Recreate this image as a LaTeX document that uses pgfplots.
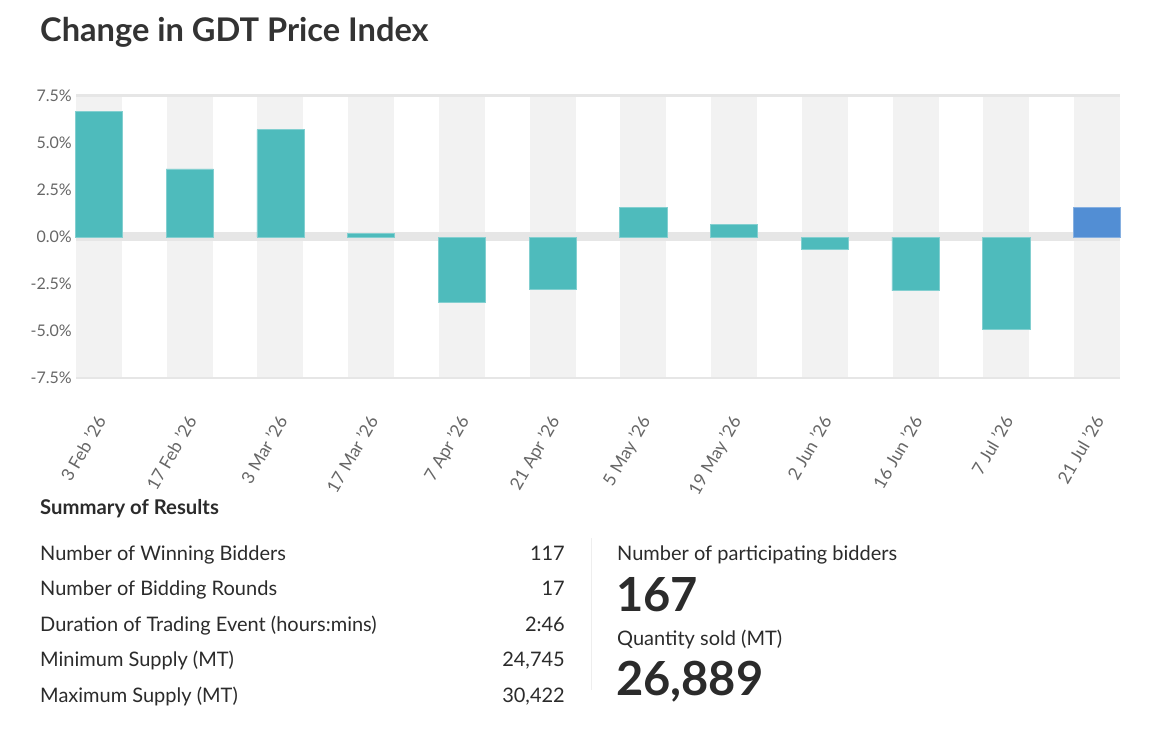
\documentclass[border=0pt]{standalone}
\usepackage{pgfplots}
\pgfplotsset{compat=1.18}
\usepackage{fontspec}
\setmainfont{Lato}
\definecolor{barteal}{HTML}{4EBBBC}
\definecolor{barblue}{HTML}{528ED4}
\definecolor{bandgray}{HTML}{F2F2F2}
\definecolor{gridgray}{HTML}{E6E6E6}
\definecolor{ticktext}{HTML}{666666}
\definecolor{titlec}{HTML}{333333}
\definecolor{bodytext}{HTML}{2B2B2B}
\definecolor{sepgray}{HTML}{EEEEEE}
\begin{document}
\begin{tikzpicture}[x=1pt,y=1pt]
\node[anchor=base west, inner sep=0pt, text=titlec, font=\bfseries\fontsize{32.6}{38}\selectfont] at (40,-41) {Change in GDT Price Index};
\begin{axis}[
  at={(76pt,-378pt)}, anchor=south west,
  scale only axis, width=1044pt, height=282pt,
  xmin=-0.2535, xmax=11.2535, ymin=-7.5, ymax=7.5,
  axis line style={draw=none},
  major tick length=0pt,
  tick style={draw=none},
  ytick={-7.5,-5,-2.5,0,2.5,5,7.5},
  yticklabels={-7.5\%,-5.0\%,-2.5\%,0.0\%,2.5\%,5.0\%,7.5\%},
  yticklabel style={inner sep=0pt, xshift=-4pt, anchor=east, text=ticktext, font=\fontsize{16}{19}\selectfont},
  xtick={0,...,11},
  xticklabels={3 Feb '26,17 Feb '26,3 Mar '26,17 Mar '26,7 Apr '26,21 Apr '26,5 May '26,19 May '26,2 Jun '26,16 Jun '26,7 Jul '26,21 Jul '26},
  xticklabel style={inner sep=0pt, xshift=-4pt, yshift=-36pt, rotate=60, anchor=north east, text=ticktext, font=\fontsize{17.5}{20}\selectfont},
  clip=false,
]
\pgfplotsforeachungrouped \i in {0,...,11}{%
  \pgfmathsetmacro{\xl}{\i-0.2535}%
  \pgfmathsetmacro{\xr}{\i+0.2535}%
  \edef\temp{\noexpand\fill[bandgray] (axis cs:\xl,-7.5) rectangle (axis cs:\xr,7.5);}%
  \temp
}
\draw[gridgray, line width=3pt] (axis cs:-0.2535,7.5) -- (axis cs:11.2535,7.5);
\draw[gridgray, line width=2.5pt] (axis cs:-0.2535,-7.5) -- (axis cs:11.2535,-7.5);
\draw[gridgray, line width=9pt] (axis cs:-0.2535,0.03) -- (axis cs:11.2535,0.03);
\addplot[ybar, bar width=0.52, bar shift=0pt, fill=barteal, draw=barteal!70!white, line width=0.6pt]
  coordinates {(0,6.70) (1,3.62) (2,5.71) (3,0.18) (4,-3.46) (5,-2.77) (6,1.58) (7,0.68) (8,-0.67) (9,-2.86) (10,-4.93)};
\addplot[ybar, bar width=0.52, bar shift=0pt, fill=barblue, draw=barblue!70!white, line width=0.6pt]
  coordinates {(11,1.56)};
\end{axis}
\node[anchor=base west, inner sep=0pt, text=bodytext, font=\bfseries\fontsize{20.3}{24}\selectfont] at (40,-514) {Summary of Results};
\begin{scope}[every node/.style={inner sep=0pt, text=bodytext, font=\fontsize{20}{24}\selectfont}]
\node[anchor=base west] at (40,-560) {Number of Winning Bidders};
\node[anchor=base west] at (40,-595.5) {Number of Bidding Rounds};
\node[anchor=base west] at (40,-631) {Duration of Trading Event (hours:mins)};
\node[anchor=base west] at (40,-666.5) {Minimum Supply (MT)};
\node[anchor=base west] at (40,-702) {Maximum Supply (MT)};
\node[anchor=base east] at (565,-560) {117};
\node[anchor=base east] at (565,-595.5) {17};
\node[anchor=base east] at (565,-631) {2:46};
\node[anchor=base east] at (565,-666.5) {24,745};
\node[anchor=base east] at (565,-702) {30,422};
\node[anchor=base west] at (617,-560) {Number of participating bidders};
\node[anchor=base west] at (617,-645) {Quantity sold (MT)};
\end{scope}
\draw[sepgray, line width=1pt] (591,-538) -- (591,-690);
\node[anchor=base west, inner sep=0pt, text=bodytext, font=\bfseries\fontsize{47}{56}\selectfont] at (616,-611) {167};
\node[anchor=base west, inner sep=0pt, text=bodytext, font=\bfseries\fontsize{47}{56}\selectfont] at (616,-695) {26,889};
\path (0,0) rectangle (1152,-747);
\end{tikzpicture}
\end{document}
